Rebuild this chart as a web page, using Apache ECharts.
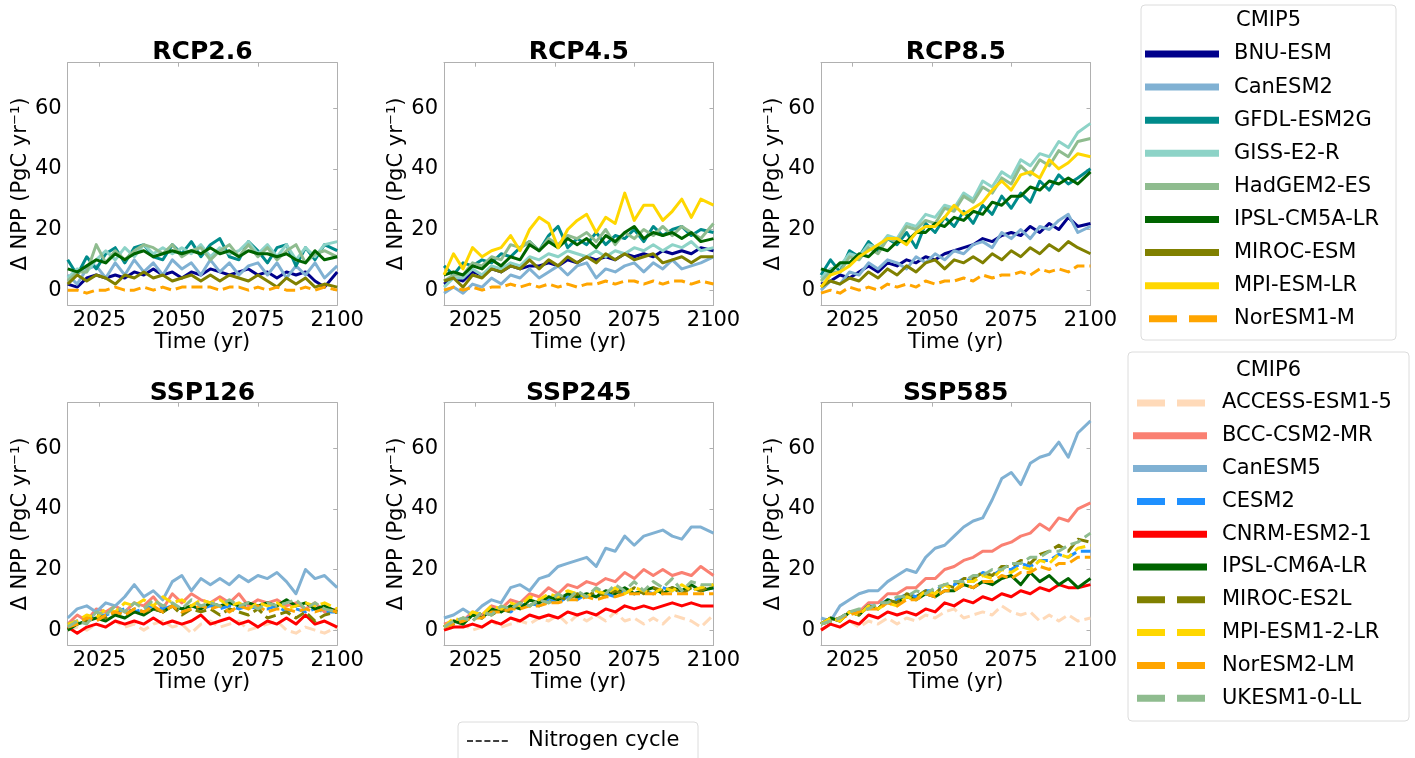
<!DOCTYPE html>
<html>
<head>
<meta charset="utf-8">
<script src="https://cdn.jsdelivr.net/npm/echarts@6/dist/echarts.min.js"></script>
<style>
html,body{margin:0;padding:0;background:#fff;}
#chart{width:1415px;height:758px;}
</style>
</head>
<body>
<div id="chart"></div>
<script>
// ---------------- data ----------------
const years = [2015,2018,2021,2024,2027,2030,2033,2036,2039,2042,2045,2048,2051,2054,2057,2060,2063,2066,2069,2072,2075,2078,2081,2084,2087,2090,2093,2096,2100];
const xTickLabels = [2025,2050,2075,2100];
const yTickLabels = [0,20,40,60];

// CMIP5 models
const cmip5Names  = ['BNU-ESM','CanESM2','GFDL-ESM2G','GISS-E2-R','HadGEM2-ES','IPSL-CM5A-LR','MIROC-ESM','MPI-ESM-LR','NorESM1-M'];
const cmip5Colors = ['#00008b','#80b1d3','#008b8b','#8dd3c7','#8fbc8f','#006400','#808000','#ffd700','#ffa500'];
const cmip5Dashed = [false,false,false,false,false,false,false,false,true];

// CMIP6 models
const cmip6Names  = ['ACCESS-ESM1-5','BCC-CSM2-MR','CanESM5','CESM2','CNRM-ESM2-1','IPSL-CM6A-LR','MIROC-ES2L','MPI-ESM1-2-LR','NorESM2-LM','UKESM1-0-LL'];
const cmip6Colors = ['#ffdab9','#fa8072','#80b1d3','#1e90ff','#ff0000','#006400','#808000','#ffd700','#ffa500','#8fbc8f'];
const cmip6Dashed = [true,false,false,true,false,false,true,true,true,true];

const panelTitles = ['RCP2.6','RCP4.5','RCP8.5','SSP126','SSP245','SSP585'];

// RCP2.6 (no MPI-ESM-LR)
const rcp26_BNU   = [2,1,4,5,4,5,4,6,5,7,5,6,4,6,5,7,6,5,6,7,5,6,4,6,5,6,3,1,6];
const rcp26_Can   = [5,2,7,8,4,9,5,10,6,9,5,10,7,9,5,10,6,9,5,8,9,5,9,4,8,5,9,4,8];
const rcp26_GFDL  = [10,5,11,7,12,14,9,14,15,11,10,15,12,16,11,15,17,11,10,16,13,9,14,15,8,14,10,15,13];
const rcp26_GISS  = [4,7,6,10,13,10,14,11,15,12,14,12,14,12,15,11,14,12,13,16,12,15,11,15,10,14,11,15,16];
const rcp26_Had   = [3,6,6,15,9,13,10,13,15,14,12,15,11,13,14,10,13,15,11,15,11,14,10,13,15,9,12,13,11];
const rcp26_IPSL  = [7,6,8,10,9,12,10,12,13,11,12,13,12,13,12,14,12,13,11,13,12,12,11,12,10,9,13,10,11];
const rcp26_MIROC = [2,5,3,5,4,2,5,4,6,4,5,3,4,5,3,5,3,5,4,3,5,3,1,4,2,4,1,2,1];
const rcp26_Nor   = [0,0,-1,0,0,1,0,0,1,0,1,0,1,1,1,1,0,1,1,0,1,0,1,0,0,1,0,1,0];

// RCP4.5
const rcp45_BNU   = [2,4,3,6,5,7,6,8,7,8,8,9,8,10,9,11,10,11,10,12,11,12,11,13,12,13,12,14,13];
const rcp45_Can   = [-1,1,-1,2,1,4,2,5,4,7,4,6,8,5,8,9,4,7,6,8,9,6,9,7,10,7,8,9,11];
const rcp45_GFDL  = [8,5,9,8,10,9,12,11,14,16,13,18,21,14,17,15,19,15,18,17,20,16,21,18,20,21,18,20,19];
const rcp45_GISS  = [1,4,4,7,5,8,7,9,8,11,10,12,11,13,12,11,13,11,13,12,14,13,15,13,15,14,16,13,14];
const rcp45_Had   = [3,5,5,9,8,11,10,15,14,16,13,17,15,18,17,19,16,20,15,19,17,20,18,21,18,21,19,17,22];
const rcp45_IPSL  = [5,6,5,8,7,10,8,11,10,15,13,16,14,17,15,17,14,18,16,19,21,17,19,18,19,17,19,16,17];
const rcp45_MIROC = [3,4,1,5,4,7,6,8,7,10,7,10,8,11,9,11,9,12,10,12,10,11,12,9,10,11,9,11,11];
const rcp45_MPI   = [5,12,7,14,11,13,14,18,13,20,24,22,14,20,23,25,19,24,22,32,23,28,28,23,26,30,24,30,28];
const rcp45_Nor   = [0,1,0,1,0,1,1,2,1,2,1,2,1,2,1,2,2,3,2,3,3,2,3,2,3,3,2,3,2];

// RCP8.5
const rcp85_BNU   = [2,3,5,4,6,8,6,9,8,10,9,11,10,12,13,14,15,17,16,18,19,18,21,19,22,20,24,21,22];
const rcp85_Can   = [0,3,2,6,5,9,7,10,9,7,11,9,12,10,13,12,15,16,14,19,17,20,17,21,20,23,25,19,21];
const rcp85_GFDL  = [5,10,6,13,11,16,13,17,15,19,14,22,19,24,21,26,22,28,25,31,27,32,29,36,33,38,35,37,40];
const rcp85_GISS  = [4,7,8,12,11,15,14,18,17,22,21,25,24,28,27,32,30,36,34,39,37,43,41,45,44,49,47,52,55];
const rcp85_Had   = [3,6,6,11,10,14,12,17,16,21,20,23,22,27,26,31,29,34,32,37,35,41,38,43,41,46,44,49,50];
const rcp85_IPSL  = [7,6,9,9,12,11,14,13,16,16,19,19,22,21,24,23,26,25,29,28,31,31,34,33,36,35,37,35,39];
const rcp85_MIROC = [1,3,2,4,3,6,4,7,5,8,6,9,10,7,10,9,11,9,12,10,13,11,14,12,15,13,16,14,12];
const rcp85_MPI   = [1,5,6,8,11,13,15,17,17,15,19,21,21,24,28,25,27,29,33,36,33,38,39,37,43,40,42,45,44];
const rcp85_Nor   = [-1,0,-1,1,0,1,0,2,1,2,1,3,2,3,3,4,3,5,4,5,5,6,5,7,6,7,6,8,8];

// SSP126
const ssp126_ACCESS = [0,1,0,2,1,3,1,2,0,2,3,1,2,-1,2,3,1,2,3,0,1,2,3,0,-1,1,0,-1,1];
const ssp126_BCC    = [2,5,3,7,6,8,6,9,8,11,7,12,9,12,10,9,11,9,12,8,10,9,10,8,9,7,9,6,7];
const ssp126_Can    = [4,7,8,6,9,8,11,15,11,13,10,16,18,13,17,15,17,15,18,16,18,17,19,16,12,20,17,18,14];
const ssp126_CESM   = [2,3,4,5,5,6,7,6,7,8,7,8,7,8,7,8,7,8,7,8,7,7,8,6,7,6,7,6,6];
const ssp126_CNRM   = [1,-1,1,2,1,3,2,3,2,4,2,3,2,3,5,2,3,4,2,3,1,3,2,4,2,5,2,3,1];
const ssp126_IPSL   = [0,2,3,4,3,5,4,6,5,7,6,8,7,8,7,9,8,9,8,9,8,9,8,10,8,9,7,8,6];
const ssp126_MIROC  = [1,2,3,5,4,6,5,7,6,7,6,8,5,7,6,7,5,7,6,5,7,4,5,6,4,6,3,5,6];
const ssp126_MPI    = [2,3,5,4,7,6,9,8,10,8,11,9,10,8,10,9,10,8,9,7,9,8,9,7,8,9,8,9,7];
const ssp126_Nor    = [1,2,4,3,5,6,5,7,6,8,6,8,6,7,8,7,8,6,8,7,8,6,7,7,6,7,6,7,6];
const ssp126_UK     = [1,3,2,6,5,8,6,9,7,10,8,9,7,10,8,9,8,10,8,9,7,9,8,9,10,7,9,7,6];

// SSP245
const ssp245_ACCESS = [0,1,2,0,1,3,1,2,3,2,4,3,5,2,5,3,5,3,6,3,4,2,4,2,5,4,3,1,5];
const ssp245_BCC    = [2,3,3,6,5,8,7,10,9,12,11,14,12,15,14,16,15,17,16,19,17,20,18,20,18,19,18,21,18];
const ssp245_Can    = [4,5,7,5,8,10,9,14,15,13,17,18,21,22,23,24,21,27,26,31,28,31,32,33,31,30,34,34,32];
const ssp245_CESM   = [1,2,3,5,4,6,7,6,8,9,8,10,9,11,10,12,11,12,11,13,12,13,12,14,13,13,14,13,14];
const ssp245_CNRM   = [0,1,1,2,1,3,2,4,3,5,4,5,4,6,5,6,5,7,6,8,7,8,7,8,9,8,9,8,8];
const ssp245_IPSL   = [1,3,2,5,4,7,6,8,7,10,9,11,10,12,11,12,11,13,12,14,12,13,14,12,14,13,15,13,14];
const ssp245_MIROC  = [1,2,4,3,6,5,7,6,9,8,10,9,11,10,12,11,13,11,13,12,14,12,14,13,14,12,14,13,15];
const ssp245_MPI    = [1,4,3,6,5,8,7,9,8,11,10,12,11,13,12,11,13,12,14,12,14,13,12,14,13,15,13,14,15];
const ssp245_Nor    = [1,2,3,4,4,6,6,7,7,8,8,9,9,10,10,11,10,11,11,12,12,12,12,12,12,12,12,12,12];
const ssp245_UK     = [1,3,4,3,6,5,8,7,9,8,10,9,12,10,13,11,14,12,15,13,16,13,16,14,17,13,16,15,15];

// SSP585
const ssp585_ACCESS = [0,2,1,3,1,3,2,4,2,4,3,5,4,6,7,4,5,6,5,8,6,5,6,3,5,3,5,3,4];
const ssp585_BCC    = [2,4,3,6,6,9,9,12,12,14,14,17,17,20,21,23,24,26,26,28,29,31,32,35,33,37,36,40,42];
const ssp585_Can    = [4,3,8,10,12,13,13,16,18,20,19,24,27,28,31,34,36,37,43,50,52,48,55,57,58,62,57,65,69];
const ssp585_CESM   = [2,3,4,6,6,8,8,10,10,12,11,13,13,15,15,17,16,19,18,20,20,22,21,23,23,25,24,26,26];
const ssp585_CNRM   = [0,2,1,3,2,5,4,6,5,6,5,7,6,9,8,10,9,11,10,12,11,13,12,14,13,15,14,14,15];
const ssp585_IPSL   = [2,4,3,6,5,8,7,10,9,11,10,12,11,13,13,15,14,16,15,17,18,15,19,16,18,15,17,14,17];
const ssp585_MIROC  = [2,3,4,6,5,8,7,10,9,12,11,13,12,15,14,17,17,19,18,21,21,23,22,25,26,28,26,30,29];
const ssp585_MPI    = [2,4,3,6,5,8,7,9,8,11,10,13,12,15,13,16,16,18,17,20,19,21,20,23,22,25,24,27,28];
const ssp585_Nor    = [2,3,4,5,6,7,7,9,8,10,10,12,11,13,13,15,14,16,16,18,17,19,19,21,20,22,22,24,24];
const ssp585_UK     = [2,3,4,6,7,7,9,9,11,11,13,12,14,15,16,16,18,18,20,20,22,22,24,24,26,26,28,29,32];

// which model arrays belong to each panel (null = not present)
const panelSeries = [
  [rcp26_BNU, rcp26_Can, rcp26_GFDL, rcp26_GISS, rcp26_Had, rcp26_IPSL, rcp26_MIROC, null, rcp26_Nor],
  [rcp45_BNU, rcp45_Can, rcp45_GFDL, rcp45_GISS, rcp45_Had, rcp45_IPSL, rcp45_MIROC, rcp45_MPI, rcp45_Nor],
  [rcp85_BNU, rcp85_Can, rcp85_GFDL, rcp85_GISS, rcp85_Had, rcp85_IPSL, rcp85_MIROC, rcp85_MPI, rcp85_Nor],
  [ssp126_ACCESS, ssp126_BCC, ssp126_Can, ssp126_CESM, ssp126_CNRM, ssp126_IPSL, ssp126_MIROC, ssp126_MPI, ssp126_Nor, ssp126_UK],
  [ssp245_ACCESS, ssp245_BCC, ssp245_Can, ssp245_CESM, ssp245_CNRM, ssp245_IPSL, ssp245_MIROC, ssp245_MPI, ssp245_Nor, ssp245_UK],
  [ssp585_ACCESS, ssp585_BCC, ssp585_Can, ssp585_CESM, ssp585_CNRM, ssp585_IPSL, ssp585_MIROC, ssp585_MPI, ssp585_Nor, ssp585_UK]
];

// ---------------- layout ----------------
const FONT = '"DejaVu Sans", sans-serif';
const colLeft = [67.7, 444, 821];
const rowTop = [62.7, 402.7];
const plotW = 269.5, plotH = 242.6;
const spine = '#b0b0b0';

const grids = [], xAxes = [], yAxes = [], series = [], graphics = [];

for (let p = 0; p < 6; p++) {
  const r = Math.floor(p / 3), c = p % 3;
  grids.push({left: colLeft[c], top: rowTop[r], width: plotW, height: plotH, containLabel: false});
  xAxes.push({
    type: 'value', gridIndex: p, min: 2015, max: 2100, position: 'bottom',
    splitLine: {show: false},
    axisLine: {show: true, onZero: false, lineStyle: {color: spine, width: 1}},
    axisTick: {show: false},
    axisLabel: {customValues: xTickLabels, formatter: v => String(v), color: '#000', fontSize: 21, fontFamily: FONT, margin: 5},
    name: 'Time (yr)', nameLocation: 'middle', nameGap: 25,
    nameTextStyle: {color: '#000', fontSize: 21, fontFamily: FONT}
  });
  xAxes.push({
    type: 'value', gridIndex: p, min: 2015, max: 2100, position: 'top',
    splitLine: {show: false},
    axisLine: {show: true, onZero: false, lineStyle: {color: spine, width: 1}},
    axisTick: {show: true, inside: true, length: 4, customValues: [2025,2050,2075], lineStyle: {color: spine}},
    axisLabel: {show: false}
  });
  yAxes.push({
    type: 'value', gridIndex: p, min: -5, max: 75, position: 'left',
    splitLine: {show: false},
    axisLine: {show: true, onZero: false, lineStyle: {color: spine, width: 1}},
    axisTick: {show: false},
    axisLabel: {customValues: yTickLabels, formatter: v => String(v), color: '#000', fontSize: 21, fontFamily: FONT, margin: 6},
    name: 'Δ NPP (PgC yr⁻¹)', nameLocation: 'middle', nameGap: 36, nameRotate: 90,
    nameTextStyle: {color: '#000', fontSize: 21, fontFamily: FONT}
  });
  yAxes.push({
    type: 'value', gridIndex: p, min: -5, max: 75, position: 'right',
    splitLine: {show: false},
    axisLine: {show: true, onZero: false, lineStyle: {color: spine, width: 1}},
    axisTick: {show: true, inside: true, length: 4, customValues: yTickLabels, lineStyle: {color: spine}},
    axisLabel: {show: false}
  });

  const isC5 = p < 3;
  const names = isC5 ? cmip5Names : cmip6Names;
  const colors = isC5 ? cmip5Colors : cmip6Colors;
  const dashed = isC5 ? cmip5Dashed : cmip6Dashed;
  panelSeries[p].forEach((arr, i) => {
    if (!arr) return;
    series.push({
      type: 'line', name: names[i], xAxisIndex: 2 * p, yAxisIndex: 2 * p,
      data: years.map((yr, k) => [yr, arr[k]]),
      showSymbol: false, symbol: 'none', silent: true, animation: false,
      clip: true,
      lineStyle: {color: colors[i], width: 3, type: dashed[i] ? [11, 5] : 'solid', cap: 'butt', join: 'round'},
      z: 2 + i
    });
  });

  graphics.push({
    type: 'text', x: colLeft[c] + plotW / 2, y: r === 0 ? 52 : 393,
    style: {text: panelTitles[p], fill: '#000', font: 'bold 25px ' + FONT, align: 'center', verticalAlign: 'middle'}
  });
}

// legend boxes
function legendBlock(title, names, colors, dashed, box, lineX1, lineX2, textX, y0, dy) {
  graphics.push({type: 'rect', shape: {x: box[0], y: box[1], width: box[2], height: box[3], r: 4},
    style: {fill: '#fff', stroke: '#dcdcdc', lineWidth: 1}});
  graphics.push({type: 'text', x: box[0] + box[2] / 2, y: y0 - dy,
    style: {text: title, fill: '#000', font: '21px ' + FONT, align: 'center', verticalAlign: 'middle'}});
  names.forEach((n, i) => {
    const y = y0 + dy * i;
    graphics.push({type: 'line', shape: {x1: dashed[i] ? lineX1 + 4 : lineX1, y1: y, x2: lineX2, y2: y},
      style: {stroke: colors[i], lineWidth: 7, lineDash: dashed[i] ? [28, 12] : null, lineCap: 'butt'}});
    graphics.push({type: 'text', x: textX, y: y,
      style: {text: n, fill: '#000', font: '21px ' + FONT, align: 'left', verticalAlign: 'middle'}});
  });
}
legendBlock('CMIP5', cmip5Names, cmip5Colors, cmip5Dashed, [1141, 5, 255, 335], 1145, 1219, 1234, 54, 33.1);
legendBlock('CMIP6', cmip6Names, cmip6Colors, cmip6Dashed, [1128, 352, 281, 369], 1133, 1207, 1222, 403, 32.8);

// nitrogen cycle legend
graphics.push({type: 'rect', shape: {x: 458, y: 722, width: 240, height: 60, r: 4},
  style: {fill: '#fff', stroke: '#dcdcdc', lineWidth: 1}});
graphics.push({type: 'line', shape: {x1: 467, y1: 741, x2: 508, y2: 741},
  style: {stroke: '#000', lineWidth: 1.5, lineDash: [6, 2.7], lineCap: 'butt'}});
graphics.push({type: 'text', x: 528, y: 741,
  style: {text: 'Nitrogen cycle', fill: '#000', font: '21px ' + FONT, align: 'left', verticalAlign: 'middle'}});

const chart = echarts.init(document.getElementById('chart'), null, {renderer: 'canvas'});
chart.setOption({
  animation: false,
  backgroundColor: '#fff',
  grid: grids,
  xAxis: xAxes,
  yAxis: yAxes,
  series: series,
  graphic: graphics
});
</script>
</body>
</html>
